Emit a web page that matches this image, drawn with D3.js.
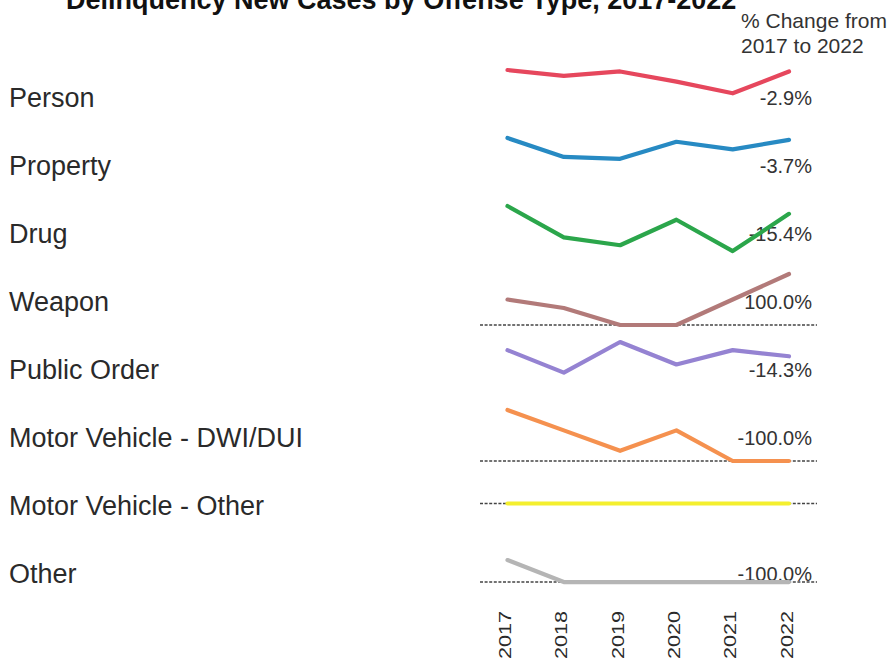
<!DOCTYPE html>
<html>
<head>
<meta charset="utf-8">
<script src="https://cdn.jsdelivr.net/npm/d3@7"></script>
<style>
  html, body { margin: 0; padding: 0; background: #ffffff; }
  svg { display: block; font-family: "Liberation Sans", Arial, sans-serif; }
</style>
</head>
<body>
<svg id="chart" width="896" height="662"></svg>
<script>
// ---- data ----
const categories = ["Person", "Property", "Drug", "Weapon", "Public Order",
  "Motor Vehicle - DWI/DUI", "Motor Vehicle - Other", "Other"];
const years = ["2017", "2018", "2019", "2020", "2021", "2022"];
const person      = [35, 31, 34, 27, 19, 34];
const property    = [27, 17, 16, 25, 21, 26];
const drug        = [26, 10, 6, 19, 3, 22];
const weapon      = [3, 2, 0, 0, 3, 6];
const publicOrder = [21, 10, 25, 14, 21, 18];
const dwiDui      = [5, 3, 1, 3, 0, 0];
const mvOther     = [0, 0, 0, 0, 0, 0];
const other       = [1, 0, 0, 0, 0, 0];
const pctChange = ["-2.9%", "-3.7%", "-15.4%", "100.0%", "-14.3%", "-100.0%", "", "-100.0%"];
// per-row (independent) axis ranges
const axisMin = [0, 0, 0, 0, 0, 0, -1, -0.68];
const axisMax = [35, 27, 26, 6, 25, 5, 1, 1.64];
const colors = ["#e6475d", "#278ac3", "#2ba64b", "#b27a79", "#9583d2", "#f5914f", "#f4ef2e", "#b5b5b5"];

const series = [person, property, drug, weapon, publicOrder, dwiDui, mvOther, other];

// ---- layout ----
const svg = d3.select("#chart");
const textColor = "#2a2a2a";

const row = d3.scalePoint().domain(categories).range([96.5, 572.5]);
const x = d3.scalePoint().domain(years).range([507.5, 789]);
const paneTop = -26.5, paneBottom = 24.5;

// title (partially cut off at top, as in original)
svg.append("text")
  .attr("x", 66).attr("y", 9)
  .attr("font-size", 27).attr("font-weight", "bold")
  .attr("fill", "#111")
  .text("Delinquency New Cases by Offense Type, 2017-2022");

// header for % change column
svg.append("text").attr("x", 741).attr("y", 28)
  .attr("font-size", 21).attr("fill", "#333").text("% Change from");
svg.append("text").attr("x", 741).attr("y", 53)
  .attr("font-size", 21).attr("fill", "#333").text("2017 to 2022");

// row labels
svg.append("g").selectAll("text").data(categories).join("text")
  .attr("x", 9)
  .attr("y", d => row(d) + 10)
  .attr("font-size", 27)
  .attr("fill", textColor)
  .text(d => d);

// pct labels (under the lines)
svg.append("g").selectAll("text").data(categories).join("text")
  .attr("x", 812)
  .attr("y", d => row(d) + 8.5)
  .attr("text-anchor", "end")
  .attr("font-size", 20)
  .attr("fill", "#333")
  .text((d, i) => pctChange[i]);

// panes
categories.forEach((cat, i) => {
  const vals = series[i];
  const cy = row(cat);
  const y = d3.scaleLinear().domain([axisMin[i], axisMax[i]])
    .range([cy + paneBottom, cy + paneTop]);
  const g = svg.append("g");
  if (d3.min(vals) === 0) {
    g.append("line")
      .attr("x1", 480).attr("x2", 817)
      .attr("y1", y(0)).attr("y2", y(0))
      .attr("stroke", "#444").attr("stroke-width", 1.4)
      .attr("stroke-dasharray", "3,1.6");
  }
  const line = d3.line().x((d, j) => x(years[j])).y(d => y(d));
  g.append("path")
    .datum(vals)
    .attr("d", line)
    .attr("fill", "none")
    .attr("stroke", colors[i])
    .attr("stroke-width", 4.2)
    .attr("stroke-linejoin", "round")
    .attr("stroke-linecap", "round");
});

// x axis (rotated year labels)
const xAxis = svg.append("g");
xAxis.selectAll("text").data(years).join("text")
  .attr("transform", d => `translate(${x(d) + 3.5},611) rotate(-90) scale(1.35,1)`)
  .attr("text-anchor", "end")
  .attr("font-size", 16)
  .attr("fill", textColor)
  .text(d => d);
</script>
</body>
</html>
